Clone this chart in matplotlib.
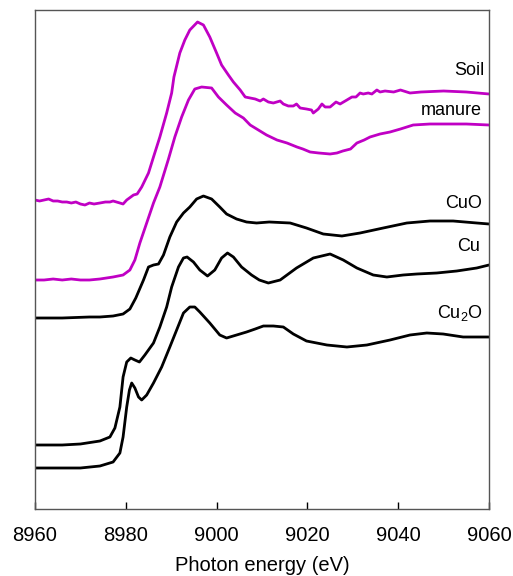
import matplotlib
matplotlib.use("Agg")
import matplotlib.pyplot as plt

plt.rcParams['font.family'] = ['Liberation Sans', 'DejaVu Sans']

# Photon energy (eV) and stacked normalized absorbance (arbitrary offset units)
soil_e = [8960, 8961, 8962, 8963, 8964, 8965, 8966, 8967, 8968, 8969, 8970, 8971, 8972, 8973,
          8974.3, 8975.5, 8976.5, 8977.2, 8978.7, 8979.4, 8980.2, 8981.7, 8982.5, 8983.5, 8985,
          8986.1, 8987.5, 8989, 8990.1, 8990.6, 8991.9, 8993, 8994.1, 8995.8, 8997.1, 8998.5,
          9000, 9001.1, 9002.6, 9003.7, 9005.2, 9006.3, 9007.4, 9008.5, 9009.6, 9010.3, 9011.4,
          9012.5, 9014, 9014.7, 9015.8, 9016.9, 9017.6, 9018.4, 9019.8, 9020.9, 9021.3, 9022.4,
          9023.2, 9023.9, 9025, 9026.3, 9027.2, 9028.7, 9029.8, 9030.7, 9031.6, 9032.3, 9033.4,
          9034.2, 9035.3, 9036, 9037.1, 9039, 9040.5, 9042.6, 9045, 9050, 9055, 9060]
soil_a = [309, 308, 309, 310, 308, 308, 307, 307, 306, 307, 305, 304, 306, 305,
          306, 307, 307, 308, 306, 305, 309, 314, 315, 322, 336,
          352, 372, 396, 416, 432, 456, 469, 479, 487, 484, 472,
          456, 444, 434, 427, 419, 412, 411, 410, 408, 410, 407,
          406, 408, 405, 403, 403, 405, 401, 400, 399, 396, 400,
          405, 402, 402, 407, 405, 409, 412, 412, 416, 415, 416,
          415, 419, 417, 418, 417, 419, 416, 417, 418, 417, 415]

manure_e = [8960, 8962, 8964, 8966, 8968, 8970, 8972, 8974.3, 8977.2, 8979.4, 8980.9, 8982, 8983.1,
            8984.6, 8986.1, 8987.5, 8989.4, 8990.8, 8992.3, 8993.8, 8995.2, 8996.7, 8998.9, 9000.4,
            9002.2, 9004.1, 9005.9, 9007.4, 9009.2, 9011, 9013.3, 9015.5, 9017.7, 9019, 9020.6,
            9022.5, 9025, 9026.5, 9027.8, 9029.5, 9030.9, 9032.5, 9033.8, 9036, 9038.2, 9040.5,
            9043.3, 9047, 9050.7, 9055, 9060]
manure_a = [229, 229, 230, 229, 230, 229, 229, 230, 232, 234, 239, 249, 266,
            286, 306, 322, 350, 372, 392, 409, 420, 422, 421, 412,
            404, 396, 391, 384, 379, 374, 369, 366, 362, 360, 357,
            356, 355, 356, 358, 360, 366, 369, 372, 375, 377, 380,
            384, 385, 385, 385, 384]

cuo_e = [8960, 8966, 8972, 8974.3, 8977.2, 8979.4, 8980.9, 8982.2, 8983.9, 8985, 8986.1, 8987.2,
         8988.3, 8989.7, 8991.2, 8992.7, 8994.1, 8995.6, 8997.1, 8998.9, 9000.7, 9002.2, 9004.4,
         9006.6, 9008.8, 9011.6, 9016.2, 9019.8, 9023.5, 9027.6, 9031.6, 9036.7, 9041.9, 9047,
         9052.1, 9057.3, 9060]
cuo_a = [191, 191, 192, 192, 193, 195, 200, 211, 229, 242, 244, 245,
         254, 272, 287, 296, 302, 310, 313, 310, 302, 295, 290,
         287, 286, 287, 286, 281, 275, 273, 276, 281, 286, 288,
         288, 286, 285]

cu_e = [8960, 8966, 8970, 8974.3, 8976.5, 8977.6, 8978.7, 8979.4, 8980.2, 8981.1, 8982, 8983,
        8984.2, 8986.1, 8987.5, 8989, 8990.1, 8991.6, 8992.7, 8993.5, 8994.9, 8996.3, 8998,
        8999.6, 9001.1, 9002.4, 9003.7, 9005.5, 9007.7, 9009.4, 9011.4, 9014, 9017.6, 9021.3,
        9025, 9027.9, 9030.9, 9034.5, 9037.5, 9041.1, 9044.1, 9048.5, 9052.9, 9057.3, 9060]
cu_a = [64, 64, 65, 68, 72, 81, 102, 132, 147, 151, 149, 147,
        154, 166, 182, 202, 222, 242, 251, 252, 247, 239, 233,
        239, 251, 256, 252, 242, 234, 229, 226, 229, 241, 251,
        255, 249, 241, 234, 232, 234, 235, 236, 238, 241, 244]

cu2o_e = [8960, 8966, 8970, 8974.3, 8977.2, 8978.7, 8979.4, 8980.2, 8980.8, 8981.3, 8982, 8982.8,
          8983.5, 8984.6, 8986.1, 8987.9, 8989.7, 8991.2, 8992.7, 8994.1, 8995.2, 8996.3, 8998.5,
          9000.7, 9002.2, 9004.4, 9006.6, 9008.5, 9010.3, 9012.5, 9014.7, 9016.9, 9019.8, 9024.3,
          9028.7, 9033.1, 9038.2, 9042.6, 9046.3, 9049.9, 9054.3, 9060]
cu2o_a = [41, 41, 41, 43, 47, 56, 72, 102, 119, 126, 121, 112,
          109, 114, 126, 142, 162, 179, 196, 202, 202, 197, 186,
          174, 171, 174, 177, 180, 183, 183, 182, 175, 168, 164,
          162, 164, 169, 174, 176, 175, 172, 172]

x_ticks = [8960, 8980, 9000, 9020, 9040, 9060]

magenta = '#C000C4'
fig = plt.figure(figsize=(5.13, 5.76), dpi=100)
ax = fig.add_axes([35/513, 1 - 509/576, 454/513, 499/576])

lw = 2.0
kw = dict(lw=lw, solid_joinstyle='round', solid_capstyle='round')
ax.plot(soil_e, soil_a, color=magenta, **kw)
ax.plot(manure_e, manure_a, color=magenta, **kw)
ax.plot(cuo_e, cuo_a, color='black', **kw)
ax.plot(cu_e, cu_a, color='black', **kw)
ax.plot(cu2o_e, cu2o_a, color='black', **kw)

ax.set_xlim(8960, 9060)
ax.set_ylim(0, 499)
ax.set_xticks(x_ticks)
ax.set_yticks([])
ax.tick_params(axis='x', direction='in', length=5, width=1, labelsize=14.5, pad=12, colors='black')
for s in ax.spines.values():
    s.set_color('#555555')
    s.set_linewidth(1.0)
ax.set_xlabel('Photon energy (eV)', fontsize=14.5, labelpad=8)

lab_fs = 13
ax.text(9059, 439, 'Soil', ha='right', va='center', fontsize=lab_fs)
ax.text(9058.5, 399, 'manure', ha='right', va='center', fontsize=lab_fs)
ax.text(9058.5, 306, 'CuO', ha='right', va='center', fontsize=lab_fs)
ax.text(9058, 263, 'Cu', ha='right', va='center', fontsize=lab_fs)
ax.text(9058.7, 196, 'Cu$_\\mathregular{2}$O', ha='right', va='center', fontsize=lab_fs)

fig.savefig('out.png', dpi=100)
